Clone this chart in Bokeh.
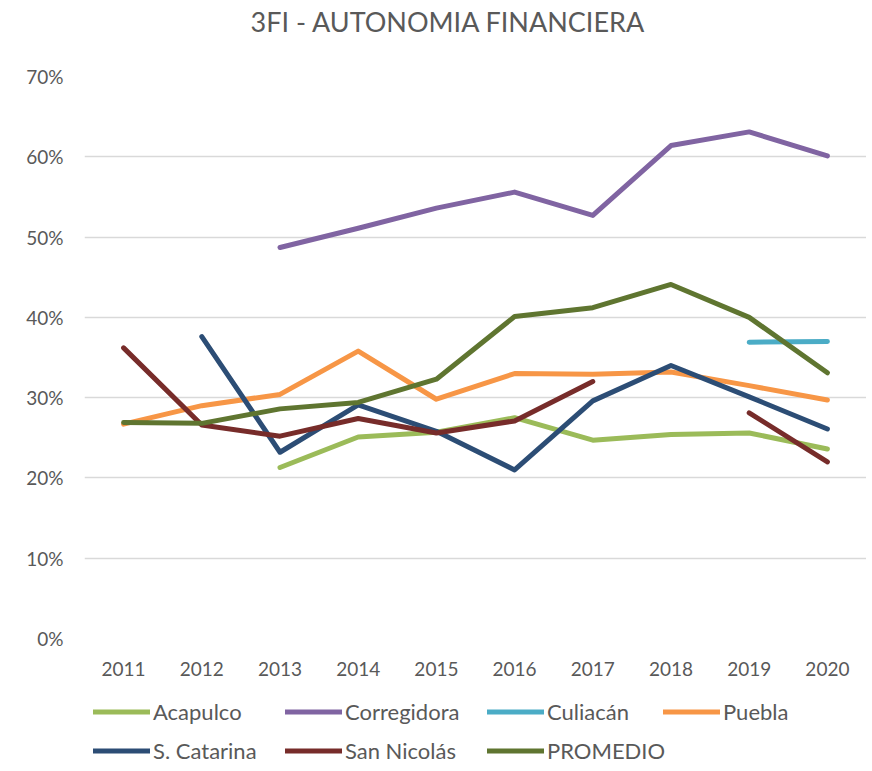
from bokeh.plotting import figure
from bokeh.layouts import column
from bokeh.models import (FactorRange, Range1d, NumeralTickFormatter, FixedTicker,
                          ColumnDataSource, Legend, LegendItem, Label)
from bokeh.embed import file_html
from bokeh.resources import INLINE

nan = float("nan")

title_text = "3FI - AUTONOMIA FINANCIERA"

years = ["2011", "2012", "2013", "2014", "2015", "2016", "2017", "2018", "2019", "2020"]

acapulco    = [nan, nan, 21.3, 25.1, 25.7, 27.5, 24.7, 25.4, 25.6, 23.6]
corregidora = [nan, nan, 48.7, 51.1, 53.6, 55.6, 52.7, 61.4, 63.1, 60.1]
culiacan    = [nan, nan, nan, nan, nan, nan, nan, nan, 36.9, 37.0]
puebla      = [26.7, 29.0, 30.4, 35.8, 29.8, 33.0, 32.9, 33.2, 31.5, 29.7]
s_catarina  = [nan, 37.6, 23.2, 29.1, 25.8, 21.0, 29.6, 34.0, 30.1, 26.1]
san_nicolas = [36.2, 26.6, 25.2, 27.4, 25.6, 27.1, 32.0, nan, 28.1, 22.0]
promedio    = [26.9, 26.8, 28.6, 29.4, 32.3, 40.1, 41.2, 44.1, 40.0, 33.1]

series_names = ["Acapulco", "Corregidora", "Culiacán", "Puebla",
                "S. Catarina", "San Nicolás", "PROMEDIO"]
series_values = [acapulco, corregidora, culiacan, puebla, s_catarina, san_nicolas, promedio]
series_colors = ["#9BBB59", "#8064A2", "#4BACC6", "#F79646",
                 "#2C4D75", "#772C2A", "#5F7530"]

y_ticks = [0, 0.1, 0.2, 0.3, 0.4, 0.5, 0.6, 0.7]

FONT = "Lato"
TXT = "#595959"


def blank(fig):
    fig.axis.visible = False
    fig.grid.visible = False
    fig.outline_line_color = None
    fig.background_fill_color = "white"
    fig.border_fill_color = "white"


# ---------------- title strip ----------------
hf = figure(width=866, height=62, x_range=Range1d(0, 1), y_range=Range1d(0, 1),
            output_backend="svg", toolbar_location=None,
            min_border_left=0, min_border_right=0, min_border_top=0, min_border_bottom=0)
blank(hf)
hf.add_layout(Label(x=166, y=41, x_units="screen", y_units="screen", text=title_text,
                    text_font=FONT, text_font_size="27px", text_color=TXT,
                    text_align="left", text_baseline="alphabetic"))

# ---------------- main chart ----------------
p = figure(width=866, height=628, x_range=FactorRange(*years), y_range=Range1d(0, 0.70),
           output_backend="svg", toolbar_location=None,
           min_border_left=84, min_border_right=0, min_border_top=14, min_border_bottom=52)
p.outline_line_color = None
p.background_fill_color = "white"
p.border_fill_color = "white"

for ax in (p.xaxis[0], p.yaxis[0]):
    ax.axis_line_color = None
    ax.major_tick_line_color = None
    ax.minor_tick_line_color = None
    ax.major_label_text_font = FONT
    ax.major_label_text_font_size = "19px"
    ax.major_label_text_color = TXT

p.yaxis.ticker = FixedTicker(ticks=y_ticks)
p.yaxis.formatter = NumeralTickFormatter(format="0%")
p.yaxis.major_label_standoff = 15
p.xaxis.major_label_standoff = 17

p.xgrid.grid_line_color = None
p.ygrid.ticker = FixedTicker(ticks=y_ticks)
p.ygrid.grid_line_color = "#D9D9D9"
p.ygrid.grid_line_width = 1.5

for name, vals, col in zip(series_names, series_values, series_colors):
    src = ColumnDataSource(dict(x=years, y=[v / 100 for v in vals]))
    p.line("x", "y", source=src, line_color=col, line_width=5,
           line_cap="round", line_join="round")

# ---------------- legend strip (frame aligned with the chart frame) ----------------
lf = figure(width=866, height=80, x_range=Range1d(0, 1), y_range=Range1d(0, 1),
            output_backend="svg", toolbar_location=None,
            min_border_left=0, min_border_right=0, min_border_top=0, min_border_bottom=0)
blank(lf)

legend_items = {}
for name, col in zip(series_names, series_colors):
    r = lf.line(x=[nan], y=[nan], line_color=col, line_width=5, line_cap="round")
    legend_items[name] = LegendItem(label=name, renderers=[r])

columns = [(["Acapulco", "S. Catarina"], 9),
           (["Corregidora", "San Nicolás"], 201),
           (["Culiacán", "PROMEDIO"], 403),
           (["Puebla"], 579)]
for names, x0 in columns:
    n = len(names)
    h = n * 29 + (n - 1) * 10
    lg = Legend(items=[legend_items[nm] for nm in names], orientation="vertical",
                location=(x0, 80 - 7 - h),
                glyph_width=57, glyph_height=29, label_height=29, label_standoff=3,
                spacing=10, padding=0, margin=0,
                border_line_color=None, background_fill_alpha=0,
                label_text_font=FONT, label_text_font_size="22px",
                label_text_color=TXT)
    lf.add_layout(lg, "center")

layout = column(hf, p, lf, spacing=0)
open("out.html", "w").write(file_html(layout, INLINE))
